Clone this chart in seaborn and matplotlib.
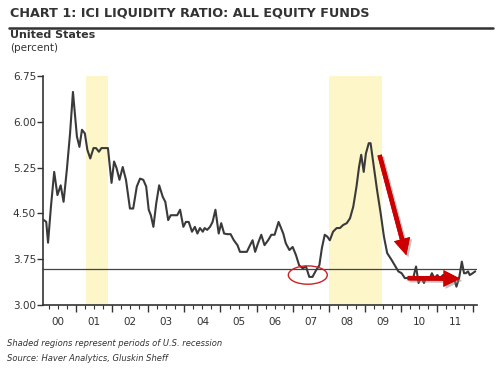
import numpy as np
import pandas as pd
import matplotlib
matplotlib.use("Agg")
import matplotlib.pyplot as plt
import matplotlib.patheffects as pe
from matplotlib.patches import Ellipse
import seaborn as sns

# ICI liquidity ratio, all equity funds (percent)
years = [2000.11, 2000.17, 2000.22, 2000.30, 2000.39, 2000.48, 2000.57, 2000.65, 2000.74, 2000.83,
         2000.91, 2001.02, 2001.09, 2001.16, 2001.24, 2001.31, 2001.39, 2001.48, 2001.55, 2001.63,
         2001.70, 2001.77, 2001.88, 2001.98, 2002.05, 2002.12, 2002.20, 2002.29, 2002.38, 2002.49,
         2002.58, 2002.68, 2002.77, 2002.86, 2002.94, 2003.01, 2003.07, 2003.14, 2003.22, 2003.30,
         2003.40, 2003.47, 2003.55, 2003.62, 2003.71, 2003.80, 2003.88, 2003.97, 2004.04, 2004.12,
         2004.21, 2004.29, 2004.36, 2004.43, 2004.51, 2004.56, 2004.63, 2004.71, 2004.78, 2004.86,
         2004.95, 2005.02, 2005.10, 2005.19, 2005.28, 2005.37, 2005.47, 2005.54, 2005.63, 2005.73,
         2005.82, 2005.89, 2005.96, 2006.04, 2006.13, 2006.22, 2006.32, 2006.41, 2006.50, 2006.61,
         2006.74, 2006.81, 2006.91, 2007.00, 2007.09, 2007.18, 2007.28, 2007.37, 2007.46, 2007.55,
         2007.65, 2007.74, 2007.81, 2007.89, 2007.96, 2008.03, 2008.12, 2008.22, 2008.31, 2008.40,
         2008.50, 2008.59, 2008.68, 2008.77, 2008.84, 2008.90, 2008.97, 2009.03, 2009.11, 2009.16,
         2009.25, 2009.34, 2009.44, 2009.53, 2009.62, 2009.74, 2009.83, 2009.93, 2010.02, 2010.11,
         2010.20, 2010.34, 2010.42, 2010.49, 2010.56, 2010.64, 2010.71, 2010.78, 2010.86, 2010.93,
         2011.01, 2011.08, 2011.17, 2011.31, 2011.39, 2011.47, 2011.54, 2011.62, 2011.69, 2011.75,
         2011.80, 2011.86, 2011.91, 2011.99, 2012.06]
ratio = [4.39, 4.36, 4.02, 4.61, 5.18, 4.80, 4.96, 4.69, 5.21, 5.81,
         6.49, 5.76, 5.59, 5.87, 5.81, 5.54, 5.40, 5.57, 5.57, 5.51,
         5.57, 5.57, 5.57, 5.00, 5.35, 5.24, 5.05, 5.26, 5.05, 4.58,
         4.58, 4.94, 5.07, 5.05, 4.94, 4.56, 4.47, 4.28, 4.67, 4.96,
         4.77, 4.69, 4.39, 4.47, 4.47, 4.47, 4.56, 4.28, 4.36, 4.36,
         4.20, 4.28, 4.17, 4.26, 4.20, 4.26, 4.23, 4.28, 4.36, 4.56,
         4.17, 4.34, 4.17, 4.16, 4.16, 4.06, 3.98, 3.87, 3.87, 3.87,
         3.98, 4.06, 3.87, 4.01, 4.15, 3.98, 4.06, 4.15, 4.15, 4.36,
         4.17, 4.01, 3.90, 3.95, 3.82, 3.65, 3.60, 3.63, 3.46, 3.46,
         3.57, 3.65, 3.93, 4.15, 4.12, 4.06, 4.20, 4.26, 4.26, 4.31,
         4.34, 4.42, 4.61, 4.94, 5.26, 5.46, 5.18, 5.48, 5.65, 5.65,
         5.26, 4.88, 4.50, 4.12, 3.85, 3.74, 3.65, 3.55, 3.52, 3.44,
         3.44, 3.44, 3.63, 3.36, 3.46, 3.36, 3.46, 3.41, 3.52, 3.44,
         3.49, 3.44, 3.49, 3.49, 3.38, 3.44, 3.30, 3.46, 3.71, 3.52,
         3.52, 3.55, 3.49, 3.52, 3.55]

recessions = [(2001.27, 2001.88), (2008.00, 2009.47)]
reference_level = 3.585
year_labels = ["00", "01", "02", "03", "04", "05", "06", "07", "08", "09", "10", "11"]
y_ticks = [3.00, 3.75, 4.50, 5.25, 6.00, 6.75]

df = pd.DataFrame({"year": years, "ratio": ratio})

sns.set_style("ticks")
plt.rcParams["font.family"] = ["DejaVu Sans"]

fig = plt.figure(figsize=(5.0, 3.71), dpi=100)
ax = fig.add_axes([0.086, 0.178, 0.868, 0.617])

# Recession shading
for start, end in recessions:
    ax.axvspan(start, end, color="#fcf6c9", lw=0, zorder=0)

ax.axhline(reference_level, color="#444444", lw=0.9, zorder=1)

sns.lineplot(data=df, x="year", y="ratio", ax=ax, color="#3a3a3a", lw=1.5, zorder=3)

ax.set_xlim(2000.08, 2012.11)
ax.set_ylim(3.0, 6.75)
ax.set_xlabel("")
ax.set_ylabel("")

ax.set_yticks(y_ticks)
ax.set_yticklabels([f"{v:.2f}" for v in y_ticks], fontsize=7.5, color="#333333")
ax.set_xticks(np.arange(2001, 2013))
ax.set_xticklabels([])
ax.set_xticks(np.arange(2000.25, 2012.1, 0.25), minor=True)
for i, lab in enumerate(year_labels):
    ax.text(2000.5 + i, 2.80, lab, ha="center", va="top", fontsize=7.5, color="#333333")

ax.tick_params(axis="y", direction="out", length=4, width=1, color="#333333", pad=1)
ax.tick_params(axis="x", which="major", direction="out", length=5, width=1, color="#333333")
ax.tick_params(axis="x", which="minor", direction="out", length=3, width=0.8, color="#333333")
for s in ["top", "right"]:
    ax.spines[s].set_visible(False)
for s in ["left", "bottom"]:
    ax.spines[s].set_color("#333333")
    ax.spines[s].set_linewidth(1.2)

# Red annotations
shadow = [pe.withSimplePatchShadow(offset=(1.5, -1.5), shadow_rgbFace="#888888", alpha=0.5), pe.Normal()]
arrow_kw = dict(arrowstyle="simple,head_length=1.2,head_width=1.2,tail_width=0.32",
                color="#cc0000", lw=0, path_effects=shadow)
ax.annotate("", xy=(2010.17, 3.77), xytext=(2009.39, 5.50), arrowprops=arrow_kw, zorder=5)
ax.annotate("", xy=(2011.72, 3.43), xytext=(2010.11, 3.44), arrowprops=arrow_kw, zorder=5)
ax.add_patch(Ellipse((2007.42, 3.49), 1.08, 0.30, fill=False, edgecolor="#cc2222", lw=1.0, zorder=4))

# Header and footer text
fig.text(0.02, 0.965, "CHART 1: ICI LIQUIDITY RATIO: ALL EQUITY FUNDS", fontsize=9.2, fontweight="bold",
         color="#333333", va="center", family=["DejaVu Sans"])
fig.add_artist(plt.Line2D([0.017, 0.986], [0.925, 0.925], color="#333333", lw=1.8))
fig.text(0.02, 0.905, "United States", fontsize=8, fontweight="bold", color="#333333", va="center")
fig.text(0.02, 0.87, "(percent)", fontsize=7.5, color="#333333", va="center")
fig.text(0.014, 0.075, "Shaded regions represent periods of U.S. recession", fontsize=6,
         style="italic", color="#333333", va="center")
fig.text(0.014, 0.033, "Source: Haver Analytics, Gluskin Sheff", fontsize=6,
         style="italic", color="#333333", va="center")

fig.savefig("out.png", dpi=100)
